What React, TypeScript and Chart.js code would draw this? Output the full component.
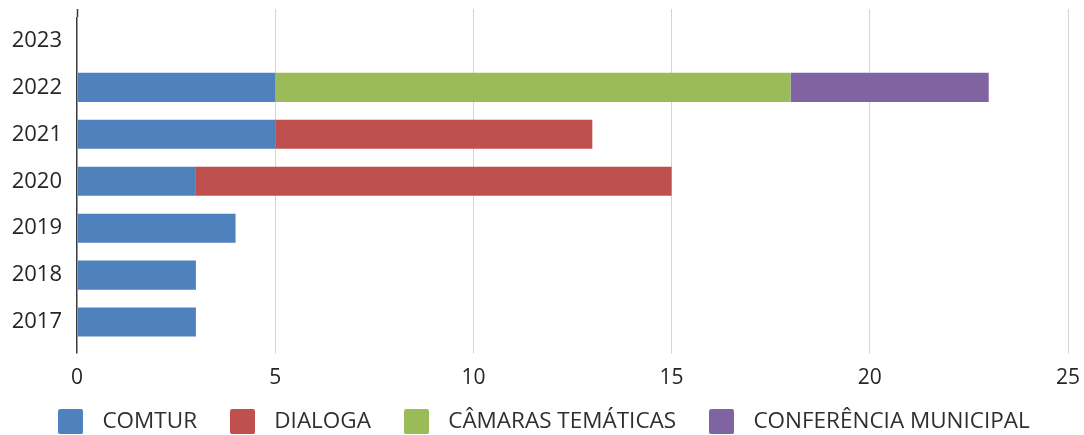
import React, { useEffect, useRef } from "react";
import { Chart, registerables } from "chart.js";

Chart.register(...registerables);

const years = ["2023", "2022", "2021", "2020", "2019", "2018", "2017"];
const comtur = [0, 5, 5, 3, 4, 3, 3];
const dialoga = [0, 0, 8, 12, 0, 0, 0];
const camaras = [0, 13, 0, 0, 0, 0, 0];
const conferencia = [0, 5, 0, 0, 0, 0, 0];
const seriesNames = ["COMTUR", "DIALOGA", "CÂMARAS TEMÁTICAS", "CONFERÊNCIA MUNICIPAL"];
const seriesColors = ["#4F81BD", "#C0504D", "#9BBB59", "#8064A2"];
const xTickStep = 5;
const xMax = 25;

function makeSwatch(color: string): HTMLCanvasElement {
  const c = document.createElement("canvas");
  c.width = 25;
  c.height = 25;
  const g = c.getContext("2d")!;
  g.fillStyle = color;
  g.beginPath();
  (g as any).roundRect ? (g as any).roundRect(0, 0, 25, 25, 2) : g.rect(0, 0, 25, 25);
  g.fill();
  return c;
}

export default function App() {
  const ref = useRef<HTMLCanvasElement | null>(null);
  useEffect(() => {
    document.body.style.margin = "0";
    const ctx = ref.current!.getContext("2d")!;
    const values = [comtur, dialoga, camaras, conferencia];
    const swatches = seriesColors.map(makeSwatch);
    const gridColor = (c: any) => (c.tick && c.tick.value === 0 ? "#3a3a3a" : "#d4d4d4");
    const gridWidth = (c: any) => (c.tick && c.tick.value === 0 ? 1.5 : 1);
    const chart = new Chart(ctx, {
      type: "bar",
      data: {
        labels: years,
        datasets: values.map((v, i) => ({
          label: seriesNames[i],
          data: v,
          backgroundColor: seriesColors[i],
          borderWidth: 0,
          barPercentage: 0.62,
          categoryPercentage: 1,
        })),
      },
      options: {
        indexAxis: "y",
        responsive: false,
        animation: false,
        layout: { padding: { top: 9, right: 16, left: 12, bottom: -8 } },
        scales: {
          x: {
            stacked: true,
            min: 0,
            max: xMax,
            afterFit: (s: any) => {
              s.height = 40;
              s.paddingLeft = 0;
              s.paddingRight = 0;
            },
            ticks: {
              stepSize: xTickStep,
              padding: 12,
              color: "#262626",
              font: { family: "'Open Sans'", size: 21 },
            },
            grid: { color: gridColor, lineWidth: gridWidth, tickLength: 8, tickColor: gridColor, tickWidth: gridWidth } as any,
            border: { display: false },
          } as any,
          x2: {
            axis: "x",
            position: "top",
            min: 0,
            max: xMax,
            afterFit: (s: any) => {
              s.height = 8;
              s.paddingLeft = 0;
              s.paddingRight = 0;
            },
            ticks: { stepSize: xTickStep, display: false },
            grid: { drawOnChartArea: false, tickLength: 8, tickColor: gridColor, tickWidth: gridWidth } as any,
            border: { display: false },
          } as any,
          y: {
            stacked: true,
            afterFit: (s: any) => {
              s.width = 65;
              s.paddingTop = 0;
              s.paddingBottom = 0;
            },
            grid: { display: false, drawTicks: false },
            border: { display: false },
            ticks: {
              padding: 15,
              color: "#262626",
              font: { family: "'Open Sans'", size: 22 },
            },
          } as any,
        },
        plugins: {
          legend: {
            position: "bottom",
            labels: {
              usePointStyle: true,
              pointStyleWidth: 41,
              boxHeight: 22,
              padding: 25,
              color: "#2f2f2f",
              font: { family: "'Open Sans'", size: 22.5 },
              generateLabels: (ch: any) => {
                const items = Chart.defaults.plugins.legend.labels.generateLabels(ch);
                items.forEach((it: any, i: number) => {
                  it.pointStyle = swatches[it.datasetIndex ?? i];
                });
                return items;
              },
            } as any,
          },
          tooltip: { enabled: false },
        },
      },
    });
    return () => chart.destroy();
  }, []);
  return (
    <div style={{ width: 1084, height: 435 }}>
      <canvas ref={ref} width={1084} height={435} />
    </div>
  );
}
